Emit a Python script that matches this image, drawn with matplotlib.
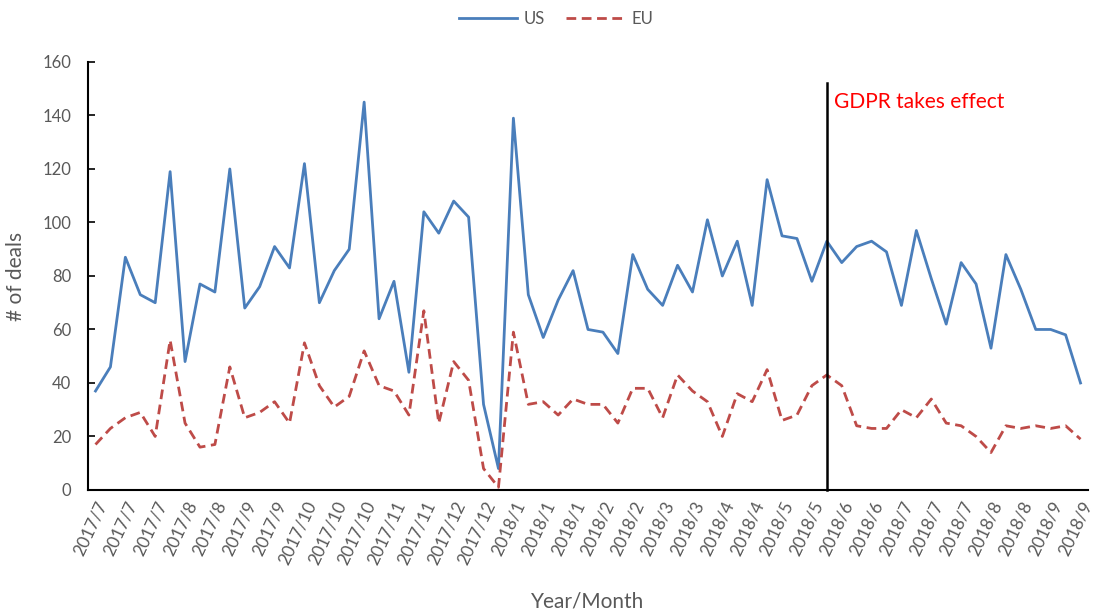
import numpy as np
import matplotlib
matplotlib.use("Agg")
import matplotlib.pyplot as plt

plt.rcParams['font.family'] = ['Lato', 'DejaVu Sans']

# weekly deal counts, Jul 2017 - Sep 2018
us_deals = [37, 46, 87, 73, 70, 119, 48, 77, 74, 120, 68, 76, 91, 83, 122, 70,
            82, 90, 145, 64, 78, 44, 104, 96, 108, 102, 32, 8, 139, 73, 57, 71,
            82, 60, 59, 51, 88, 75, 69, 84, 74, 101, 80, 93, 69, 116, 95, 94,
            78, 93, 85, 91, 93, 89, 69, 97, 79, 62, 85, 77, 53, 88, 75, 60,
            60, 58, 40]
eu_deals = [17, 23, 27, 29, 20, 56, 25, 16, 17, 46, 27, 29, 33, 25, 55, 39,
            31, 35, 52, 39, 37, 28, 67, 25, 48, 41, 8, 1, 59, 32, 33, 28,
            34, 32, 32, 25, 38, 38, 27, 43, 37, 33, 20, 36, 33, 45, 26, 28,
            39, 43, 39, 24, 23, 23, 30, 27, 34, 25, 24, 20, 14, 24, 23, 24,
            23, 24, 19]
tick_labels = ["2017/7", "2017/7", "2017/7", "2017/8", "2017/8", "2017/9", "2017/9",
               "2017/10", "2017/10", "2017/10", "2017/11", "2017/11", "2017/12",
               "2017/12", "2018/1", "2018/1", "2018/1", "2018/2", "2018/2",
               "2018/3", "2018/3", "2018/4", "2018/4", "2018/5", "2018/5",
               "2018/6", "2018/6", "2018/7", "2018/7", "2018/7", "2018/8",
               "2018/8", "2018/9", "2018/9"]
gdpr_week = 49

x = np.arange(len(us_deals))
gray = '#595959'

fig = plt.figure(figsize=(10.95, 6.13), dpi=100)
ax = fig.add_axes([0.0804, 0.2007, 0.9132, 0.6982])

ax.plot(x, us_deals, color='#4A7EBB', lw=2, label='US')
ax.plot(x, eu_deals, color='#BE4B48', lw=2, ls=(0, (3.5, 2)), label='EU')

# GDPR marker
ax.plot([gdpr_week, gdpr_week], [0, 152], color='black', lw=1.8, clip_on=False)
ax.text(gdpr_week + 0.5, 145, 'GDPR takes effect', color='red', fontsize=15,
        va='center', ha='left')

ax.set_xlim(-0.5, len(us_deals) - 0.5)
ax.set_ylim(0, 160)
ax.set_yticks(range(0, 161, 20))
ax.set_xticks(x[::2])
ax.set_xticklabels(tick_labels, rotation=65, ha='right', rotation_mode='anchor')

for s in ['top', 'right']:
    ax.spines[s].set_visible(False)
for s in ['left', 'bottom']:
    ax.spines[s].set_color('black')
    ax.spines[s].set_linewidth(1.5)

ax.tick_params(axis='y', direction='in', length=5, width=1.2, colors='black',
               labelcolor=gray, labelsize=12, pad=12)
ax.tick_params(axis='x', length=0, labelcolor=gray, labelsize=12.5, pad=6)

ax.set_ylabel('# of deals', color=gray, fontsize=15, labelpad=12)
ax.set_xlabel('Year/Month', color=gray, fontsize=15, labelpad=18)

ax.legend(loc='upper center', bbox_to_anchor=(0.468, 1.155), ncol=2, frameon=False,
          fontsize=12, labelcolor=gray, handlelength=3.5, handletextpad=0.4,
          columnspacing=1.25)

fig.savefig('out.png', dpi=100)
